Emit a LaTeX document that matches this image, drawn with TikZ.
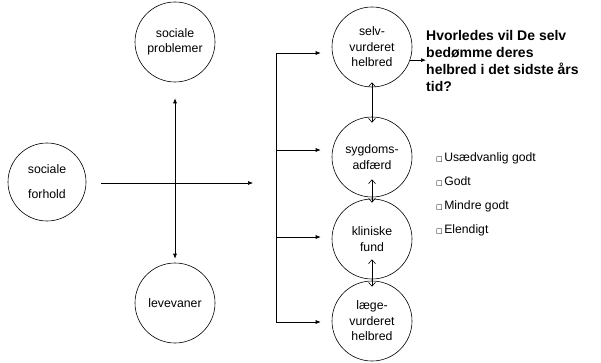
\documentclass[tikz,border=0pt]{standalone}
\usepackage{fontspec}
\setmainfont{Liberation Sans}
\newfontfamily\symfont{DejaVu Sans}
\usetikzlibrary{arrows.meta}
\begin{document}
\begin{tikzpicture}[x=1pt,y=-1pt,
  circ/.style={draw, circle, minimum size=80pt, inner sep=0pt, align=center,
    font=\fontsize{12.3}{15.5}\selectfont, line width=0.6pt},
  conn/.style={line width=0.6pt, -{Latex[length=5pt,width=4pt]}},
  dblf/.style={line width=0.6pt, {Latex[length=5pt,width=4pt]}-{Latex[length=5pt,width=4pt]}},
  dbl/.style={line width=0.6pt, {Straight Barb[length=4pt,width=7pt]}-{Straight Barb[length=4pt,width=7pt]}},
  plain/.style={line width=0.6pt}
]
\useasboundingbox (0,0) rectangle (601,363);

\node[circ] (sp) at (175,42) {sociale\\problemer};
\node[circ, minimum size=78pt, font=\fontsize{12.3}{25}\selectfont] (sf) at (47,182) {sociale\\forhold};
\node[circ] (lv) at (175,303) {levevaner};

\node[circ] (sv) at (372,47) {selv-\\vurderet\\helbred};
\node[circ] (sa) at (372,157) {sygdoms-\\adfærd};
\node[circ] (kf) at (372,239) {kliniske\\fund};
\node[circ] (lh) at (372,321) {læge-\\vurderet\\helbred};

% left cross
\draw[dblf, shorten <=16pt, shorten >=4pt] (sp.south) -- (lv.north);
\coordinate (h1) at (101,183);
\coordinate (h2) at (253,183);
\draw[conn] (h1) -- (h2);

% bracket
\coordinate (b1) at (276,53);
\coordinate (b2) at (276,150);
\coordinate (b3) at (276,237);
\coordinate (b4) at (276,322);
\draw[plain] (b1) -- (b4);
\draw[conn, shorten >=11pt] (b1) -- (b1 -| sv.west);
\draw[conn, shorten >=11pt] (b2) -- (b2 -| sa.west);
\draw[conn, shorten >=11pt] (b3) -- (b3 -| kf.west);
\draw[conn, shorten >=11pt] (b4) -- (b4 -| lh.west);

% vertical double arrows
\draw[dbl, shorten <=-5pt, shorten >=-6pt] (sv.south) -- (sa.north);
\draw[dbl, shorten <=-18pt, shorten >=-4pt] (sa.south) -- (kf.north);
\draw[dbl, shorten <=-20pt, shorten >=-6pt] (kf.south) -- (lh.north);

% question
\node[anchor=north west, align=left, inner sep=0pt,
  font=\bfseries\fontsize{14}{17}\selectfont] (q) at (426,30)
  {Hvorledes vil De selv\\bedømme deres\\helbred i det sidste års\\tid?};
\draw[conn] (sv.-19) -- (sv.-19 -| q.west);

% options
\node[anchor=north west, align=left, inner sep=0pt,
  font=\fontsize{12.2}{24}\selectfont] (opt) at (436,152)
  {{\symfont\fontsize{7}{7}\selectfont □}\kern1.5pt Usædvanlig godt\\
   {\symfont\fontsize{7}{7}\selectfont □}\kern1.5pt Godt\\
   {\symfont\fontsize{7}{7}\selectfont □}\kern1.5pt Mindre godt\\
   {\symfont\fontsize{7}{7}\selectfont □}\kern1.5pt Elendigt};
\end{tikzpicture}
\end{document}
